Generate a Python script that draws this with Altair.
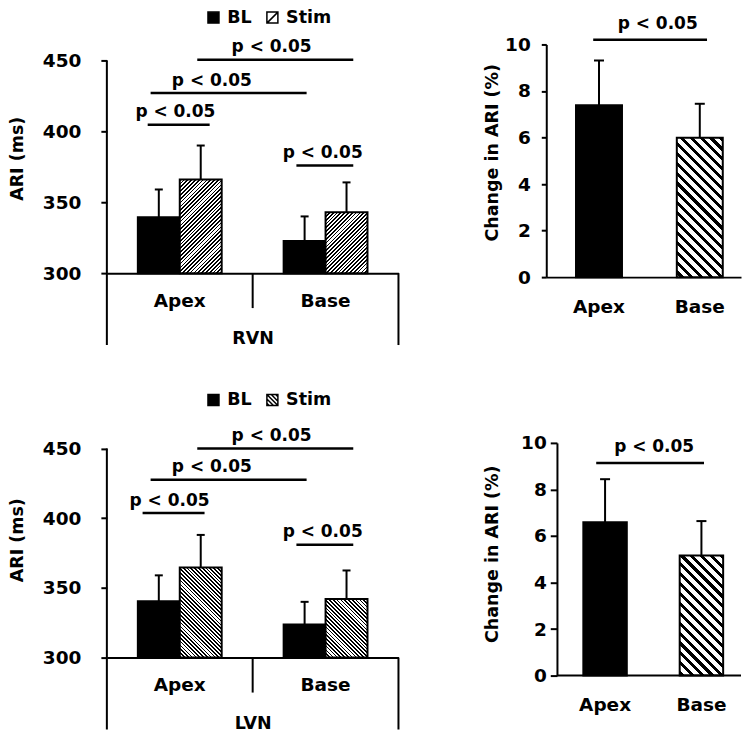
import math
import altair as alt
import pandas as pd

FONT = "DejaVu Sans"

# ---------------- data ----------------
regions = ["Apex", "Base"]
conditions = ["BL", "Stim"]

# ARI (ms): order Apex-BL, Apex-Stim, Base-BL, Base-Stim
rvn_mean = [339.5, 366.0, 322.6, 343.0]
rvn_sd = [19.5, 24.0, 17.4, 21.0]
lvn_mean = [340.5, 364.6, 323.7, 342.0]
lvn_sd = [18.5, 23.4, 16.3, 20.5]

# Change in ARI (%): Apex, Base
rvn_change = [7.39, 5.99]
rvn_change_sd = [1.92, 1.46]
lvn_change = [6.59, 5.16]
lvn_change_sd = [1.85, 1.48]

# significance brackets (y level, x start, x end, label x) ; x in group units 0..2
p_text = "p < 0.05"
rvn_br_y = [450.5, 427.0, 404.6, 376.0]
rvn_br_x1 = [0.62, 0.30, 0.28, 1.30]
rvn_br_x2 = [1.69, 1.37, 0.705, 1.69]
rvn_br_tx = [1.13, 0.72, 0.47, 1.48]
lvn_br_y = [450.0, 427.6, 403.7, 381.0]
lvn_br_x1 = [0.62, 0.30, 0.245, 1.30]
lvn_br_x2 = [1.69, 1.37, 0.67, 1.69]
lvn_br_tx = [1.13, 0.72, 0.43, 1.48]
chg_rvn_br = [10.2, 0.482, 1.651, 1.144]
chg_lvn_br = [9.14, 0.513, 1.62, 1.108]

# ---------------- layout constants ----------------
LW = 292
RW = 195
L_PI = 0.425
LABEL_SIZE = 18.5
TITLE_SIZE = 17.5
P_SIZE = 17


def hatch_fill(w, h, period, frac, direction):
    c = (w + h) / (w * w + h * h)
    if direction == "/":
        x1, y1, x2, y2 = 0.0, 0.0, w * c, h * c
    else:
        x1, y1, x2, y2 = 1.0, 0.0, 1.0 - w * c, h * c
    n = (w + h) / (math.sqrt(2) * period)
    stops = []
    k = 0
    while k / n < 1:
        a = round(k / n, 5)
        b = round(min((k + frac) / n, 1.0), 5)
        e = round(min((k + 1) / n, 1.0), 5)
        stops += [
            alt.GradientStop(offset=a, color="black"),
            alt.GradientStop(offset=b, color="black"),
            alt.GradientStop(offset=b, color="white"),
            alt.GradientStop(offset=e, color="white"),
        ]
        k += 1
    return alt.LinearGradient(gradient="linear", stops=stops, x1=x1, y1=y1, x2=x2, y2=y2)


def left_panel(means, sds, br_y, br_x1, br_x2, br_tx, group_title, height, ymax,
               hatch_dir, stim_symbol, legend_y, title_y):
    df = pd.DataFrame({
        "region": [r for r in regions for _ in conditions],
        "condition": conditions * len(regions),
        "mean": means,
        "sd": sds,
    })
    df["top"] = df["mean"] + df["sd"]
    y_scale = alt.Scale(domain=[300, ymax], nice=False, zero=False)
    x_enc = alt.X("region:N", sort=regions,
                  scale=alt.Scale(domain=regions, paddingInner=L_PI, paddingOuter=L_PI / 2),
                  axis=alt.Axis(title=group_title, domain=True, domainColor="black", domainWidth=2,
                                ticks=False, tickSize=0, labelAngle=0, labelPadding=18, titlePadding=20))
    xo = alt.XOffset("condition:N", scale=alt.Scale(domain=conditions, paddingInner=0, paddingOuter=0))
    y_enc = alt.Y("mean:Q", scale=y_scale,
                  axis=alt.Axis(values=[300, 350, 400, 450], domain=False, grid=False, tickSize=6,
                                tickWidth=2, tickColor="black", labelPadding=20,
                                title="ARI (ms)", titlePadding=16, titleY=title_y))
    base = alt.Chart(df)
    bl = base.transform_filter(alt.datum.condition == "BL").mark_bar(
        fill="black", stroke="black", strokeWidth=2, opacity=1
    ).encode(x=x_enc, xOffset=xo, y=y_enc, y2=alt.Y2(datum=300))

    step = LW / 2
    bw = step * (1 - L_PI) / 2
    layers = [bl]
    for i, r in enumerate(regions):
        m = means[i * 2 + 1]
        h = (m - 300) * height / (ymax - 300)
        layers.append(
            base.transform_filter((alt.datum.condition == "Stim") & (alt.datum.region == r)).mark_bar(
                fill=hatch_fill(bw, h, 2.7, 0.45, hatch_dir), stroke="black", strokeWidth=2, opacity=1
            ).encode(x=x_enc, xOffset=xo, y=y_enc, y2=alt.Y2(datum=300))
        )
    err = base.mark_rule(color="black", strokeWidth=2).encode(
        x=x_enc, xOffset=xo, y=alt.Y("mean:Q", scale=y_scale), y2="top:Q")
    cap = base.mark_tick(color="black", thickness=2, size=8, opacity=1).encode(
        x=x_enc, xOffset=xo, y=alt.Y("top:Q", scale=y_scale))
    leg = alt.Legend(title=None, orient="none", legendX=98, legendY=legend_y, direction="horizontal",
                     symbolSize=121, symbolStrokeColor="black", symbolStrokeWidth=1.5, symbolOpacity=1,
                     labelFontSize=TITLE_SIZE, labelFont=FONT, labelFontWeight="bold", labelColor="black",
                     labelOffset=5, columnPadding=12, padding=0)
    pts = base.mark_point(size=0, filled=False, opacity=1, strokeWidth=1.5).encode(
        x=x_enc, xOffset=xo, y=alt.Y("mean:Q", scale=y_scale),
        fill=alt.Fill("condition:N", scale=alt.Scale(domain=conditions, range=["black", "white"]), legend=leg),
        stroke=alt.Stroke("condition:N", scale=alt.Scale(domain=conditions, range=["black", "black"]), legend=leg),
        shape=alt.Shape("condition:N", scale=alt.Scale(domain=conditions, range=["square", stim_symbol]), legend=leg),
    )
    bars_group = alt.layer(*layers, err, cap, pts)

    br_df = pd.DataFrame({"y": br_y, "x1": br_x1, "x2": br_x2, "tx": br_tx, "label": [p_text] * len(br_y)})
    xlin = alt.Scale(domain=[0, 2], nice=False, zero=False)
    lines = alt.Chart(br_df).mark_rule(color="black", strokeWidth=2.5).encode(
        x=alt.X("x1:Q", scale=xlin, axis=None), x2="x2:Q", y=alt.Y("y:Q", scale=y_scale))
    texts = alt.Chart(br_df).mark_text(font=FONT, fontSize=P_SIZE, fontWeight="bold", dy=-12.5, color="black").encode(
        x=alt.X("tx:Q", scale=xlin, axis=None), y=alt.Y("y:Q", scale=y_scale), text="label:N")
    one = pd.DataFrame({"k": [0]})
    frame_l = alt.Chart(one).mark_rule(color="black", strokeWidth=2).encode(
        x=alt.X(datum=0, scale=xlin, axis=None), y=alt.Y(datum=450, scale=y_scale), y2=alt.value(height + 72))
    frame_r = alt.Chart(one).mark_rule(color="black", strokeWidth=2).encode(
        x=alt.X(datum=2, scale=xlin, axis=None), y=alt.Y(datum=300, scale=y_scale), y2=alt.value(height + 72))
    divider = alt.Chart(one).mark_rule(color="black", strokeWidth=2).encode(
        x=alt.X(datum=1, scale=xlin, axis=None), y=alt.Y(datum=300, scale=y_scale), y2=alt.value(height + 35))
    annot_group = alt.layer(lines, texts, frame_l, frame_r, divider)

    return alt.layer(bars_group, annot_group).resolve_scale(x="independent").properties(width=LW, height=height)


def right_panel(vals, sds, br, p_inner, p_outer, align, height, label_padding, title_padding,
                axis_offset, title_y, tick_size):
    df = pd.DataFrame({"region": regions, "value": vals, "sd": sds})
    df["top"] = df["value"] + df["sd"]
    y_scale = alt.Scale(domain=[0, 10], nice=False, zero=True)
    x_enc = alt.X("region:N", sort=regions,
                  scale=alt.Scale(domain=regions, paddingInner=p_inner, paddingOuter=p_outer, align=align),
                  axis=alt.Axis(title=None, domain=(axis_offset == 0), domainColor="black", domainWidth=2,
                                ticks=False, tickSize=0, labelAngle=0, labelPadding=20))
    y_enc = alt.Y("value:Q", scale=y_scale,
                  axis=alt.Axis(values=[0, 2, 4, 6, 8, 10], domain=True, domainColor="black", domainWidth=2,
                                grid=False, tickSize=tick_size, tickWidth=2, tickColor="black",
                                labelPadding=label_padding, title="Change in ARI (%)",
                                titlePadding=title_padding, titleY=title_y, offset=axis_offset))
    step = RW / (2 - p_inner + 2 * p_outer)
    bw = step * (1 - p_inner)
    h = vals[1] * height / 10
    base = alt.Chart(df)
    apex = base.transform_filter(alt.datum.region == "Apex").mark_bar(
        fill="black", stroke="black", strokeWidth=2, opacity=1).encode(x=x_enc, y=y_enc, y2=alt.Y2(datum=0))
    basebar = base.transform_filter(alt.datum.region == "Base").mark_bar(
        fill=hatch_fill(bw, h, 7.0, 0.42, "\\"), stroke="black", strokeWidth=2, opacity=1
    ).encode(x=x_enc, y=y_enc, y2=alt.Y2(datum=0))
    err = base.mark_rule(color="black", strokeWidth=2).encode(
        x=x_enc, y=alt.Y("value:Q", scale=y_scale), y2="top:Q")
    cap = base.mark_tick(color="black", thickness=2, size=10, opacity=1).encode(
        x=x_enc, y=alt.Y("top:Q", scale=y_scale))
    bars_group = alt.layer(apex, basebar, err, cap)

    br_df = pd.DataFrame({"y": [br[0]], "x1": [br[1]], "x2": [br[2]], "tx": [br[3]], "label": [p_text]})
    xlin = alt.Scale(domain=[0, 2], nice=False, zero=False)
    line = alt.Chart(br_df).mark_rule(color="black", strokeWidth=2.5).encode(
        x=alt.X("x1:Q", scale=xlin, axis=None), x2="x2:Q", y=alt.Y("y:Q", scale=y_scale))
    text = alt.Chart(br_df).mark_text(font=FONT, fontSize=P_SIZE, fontWeight="bold", dy=-15.5, color="black").encode(
        x=alt.X("tx:Q", scale=xlin, axis=None), y=alt.Y("y:Q", scale=y_scale), text="label:N")
    annot = [line, text]
    if axis_offset != 0:
        one = pd.DataFrame({"k": [0]})
        annot.append(alt.Chart(one).mark_rule(color="black", strokeWidth=2).encode(
            x=alt.value(-axis_offset), x2=alt.value(RW), y=alt.Y(datum=0, scale=y_scale)))
    annot_group = alt.layer(*annot)
    return alt.layer(bars_group, annot_group).resolve_scale(x="independent").properties(width=RW, height=height)


stim_sym_top = "M-1,-1H1V1H-1Z M-1,1L1,-1"
stim_sym_bottom = "M-1,-1H1V1H-1Z M-1,-1L1,1 M-1,-0.2L0.2,1 M-0.2,-1L1,0.2 M-1,0.6L-0.6,1 M0.6,-1L1,-0.6"

tl = left_panel(rvn_mean, rvn_sd, rvn_br_y, rvn_br_x1, rvn_br_x2, rvn_br_tx, "RVN",
                229, 461.3, "/", stim_sym_top, -36, 114)
tr = right_panel(rvn_change, rvn_change_sd, chg_rvn_br, 0.544, 0.238, 0.62, 233, 11, 3, 0, 108, 5)
bl = left_panel(lvn_mean, lvn_sd, lvn_br_y, lvn_br_x1, lvn_br_x2, lvn_br_tx, "LVN",
                215, 454.0, "\\", stim_sym_bottom, -52, 97)
br = right_panel(lvn_change, lvn_change_sd, chg_lvn_br, 0.549, 0.285, 0.675, 233, 4, 19, -10.7, 111, 6.7)

chart = alt.concat(
    tl, tr, bl, br, columns=2, spacing={"row": 166, "column": 148}, bounds="flush"
).resolve_scale(
    fill="independent", stroke="independent", shape="independent"
).resolve_legend(
    fill="independent", stroke="independent", shape="independent"
).properties(padding=0).configure_view(stroke=None).configure_axis(
    labelFont=FONT, titleFont=FONT, labelFontWeight="bold", titleFontWeight="bold",
    labelColor="black", titleColor="black", labelFontSize=LABEL_SIZE, titleFontSize=TITLE_SIZE,
)

chart.save("out.html", embed_options={"renderer": "svg", "actions": False})
